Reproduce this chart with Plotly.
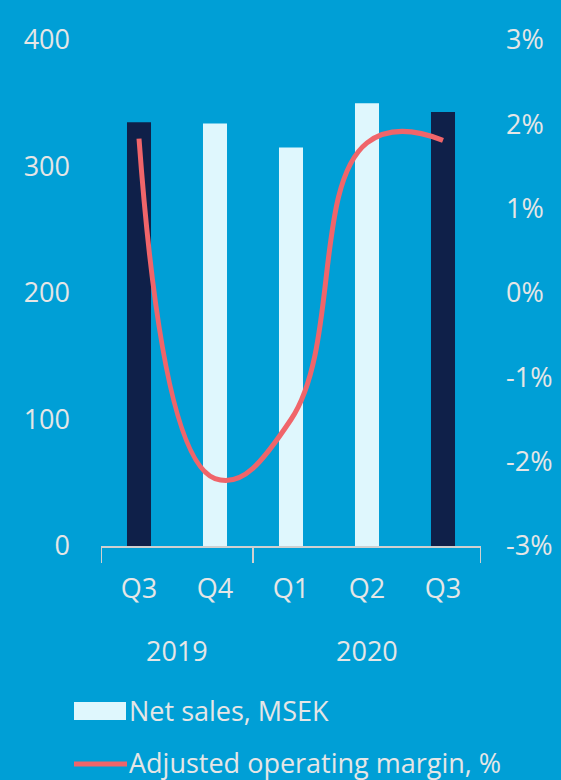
import plotly.graph_objects as go

quarters = ["Q3", "Q4", "Q1", "Q2", "Q3"]
years = ["2019", "2020"]
year_group_centers = [0.5, 3.0]
net_sales = [335, 334, 315, 350, 343]
bar_colors = ["#0F2049", "#DFF7FD", "#DFF7FD", "#DFF7FD", "#0F2049"]
margin_pct = [1.83, -2.2, -1.5, 1.78, 1.81]
left_ticks = [0, 100, 200, 300, 400]
right_ticks = [-3, -2, -1, 0, 1, 2, 3]
right_tick_text = ["-3%", "-2%", "-1%", "0%", "1%", "2%", "3%"]

BG = "#009FD6"
TXT = "#E6E6E6"
FONT = "Open Sans, sans-serif"
FS = 27
x_idx = list(range(len(quarters)))

fig = go.Figure()
fig.add_trace(go.Bar(
    x=x_idx, y=net_sales, marker=dict(color=bar_colors, line=dict(width=0)),
    width=0.316, name="Net sales, MSEK", showlegend=False, yaxis="y"))
fig.add_trace(go.Scatter(
    x=x_idx, y=margin_pct, mode="lines",
    line=dict(color="#F0656A", width=5, shape="spline", smoothing=1.3),
    name="Adjusted operating margin, %", showlegend=False, yaxis="y2"))

fig.update_layout(
    width=561, height=780,
    paper_bgcolor=BG, plot_bgcolor=BG,
    margin=dict(l=101, r=80, t=40, b=234, autoexpand=False),
    font=dict(family=FONT, size=FS, color=TXT),
    xaxis=dict(
        tickmode="array", tickvals=x_idx, ticktext=quarters,
        range=[-0.5, 4.5], showgrid=False, zeroline=False,
        showline=True, linecolor="#D0D0D0", linewidth=2, automargin=False,
        ticks="", ticklabelstandoff=18, tickfont=dict(size=FS, color=TXT)),
    yaxis=dict(
        range=[0, 400], tickvals=left_ticks, showgrid=False, zeroline=False,
        showline=False, ticks="", ticklabelstandoff=30, automargin=False,
        tickfont=dict(size=FS, color=TXT)),
    yaxis2=dict(
        range=[-3, 3], tickvals=right_ticks, ticktext=right_tick_text,
        overlaying="y", side="right", showgrid=False, zeroline=False,
        showline=False, ticks="", ticklabelstandoff=24, automargin=False,
        tickfont=dict(size=FS, color=TXT)),
    showlegend=False,
)

# group divider ticks on x axis
for xv in [-0.5, 1.5, 4.5]:
    fig.add_shape(type="line", xref="x", yref="paper", x0=xv, x1=xv,
                  y0=0, y1=-17 / 506, line=dict(color="#D0D0D0", width=2))

# year labels
for yr, xc in zip(years, year_group_centers):
    fig.add_annotation(x=xc, xref="x", y=-(650 - 546) / 506, yref="paper",
                       yanchor="middle", text=yr, showarrow=False,
                       font=dict(size=FS, color=TXT, family=FONT))

# manual legend
fig.add_shape(type="rect", xref="paper", yref="paper",
              x0=(74 - 101) / 380, x1=(126 - 101) / 380,
              y0=(546 - 720) / 506, y1=(546 - 702) / 506,
              fillcolor="#DFF7FD", line=dict(width=0))
fig.add_annotation(x=(127 - 101) / 380, xref="paper", y=(546 - 710) / 506, yref="paper",
                   text="Net sales, MSEK", showarrow=False, xanchor="left", yanchor="middle",
                   font=dict(size=FS, color=TXT, family=FONT))
fig.add_shape(type="line", xref="paper", yref="paper",
              x0=(74 - 101) / 380, x1=(127 - 101) / 380,
              y0=(546 - 764) / 506, y1=(546 - 764) / 506,
              line=dict(color="#F0656A", width=5))
fig.add_annotation(x=(127 - 101) / 380, xref="paper", y=(546 - 762) / 506, yref="paper",
                   text="Adjusted operating margin, %", showarrow=False, xanchor="left", yanchor="middle",
                   font=dict(size=FS, color=TXT, family=FONT))

fig.write_html("out.html", config={"displayModeBar": False},
               post_script="document.body.style.margin='0';document.body.style.padding='0';")
